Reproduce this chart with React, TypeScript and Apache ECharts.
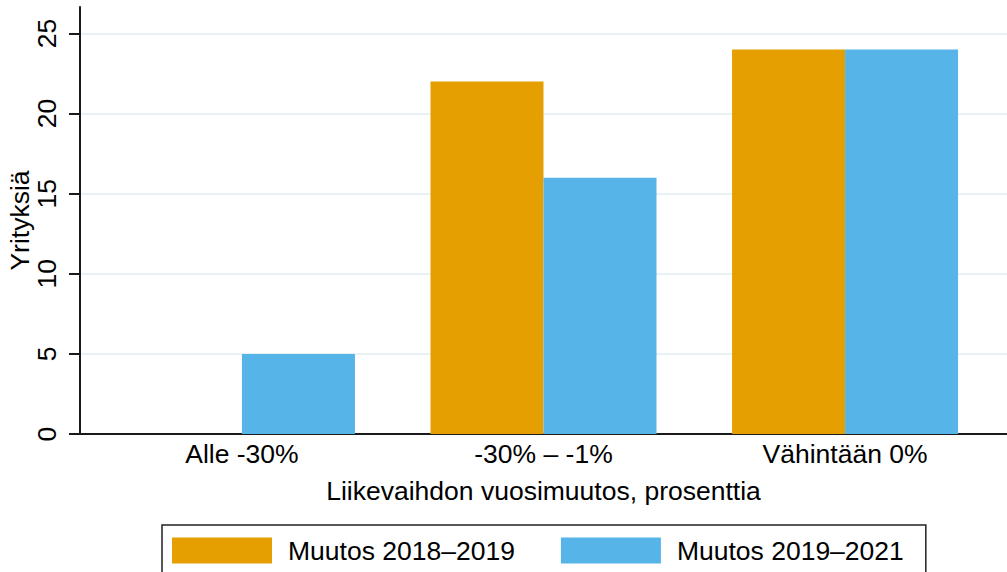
import React, { useEffect, useRef } from "react";
import * as echarts from "echarts";

const categories = ["Alle -30%", "-30% – -1%", "Vähintään 0%"];
const seriesNames = ["Muutos 2018–2019", "Muutos 2019–2021"];
const values2018_2019 = [0, 22, 24];
const values2019_2021 = [5, 16, 24];
const yTicks = [0, 5, 10, 15, 20, 25];
const categoryPositions = categories.map((_, i) => i + 1);

const FONT = "Liberation Sans, Arial, sans-serif";
const FS = 26.5;

export default function App() {
  const ref = useRef<HTMLDivElement>(null);
  useEffect(() => {
    if (!ref.current) return;
    const chart = echarts.init(ref.current, undefined, { renderer: "svg" });
    chart.setOption({
      animation: false,
      backgroundColor: "#ffffff",
      textStyle: { fontFamily: FONT },
      grid: { left: 80, right: 0, top: 7, bottom: 138, containLabel: false, outerBoundsMode: "none" },
      legend: {
        left: 162,
        top: 525,
        orient: "horizontal",
        itemWidth: 100,
        itemHeight: 26,
        itemGap: 46,
        padding: [12, 22, 12, 10],
        borderColor: "#222222",
        borderWidth: 1.5,
        borderRadius: 0,
        icon: "rect",
        textStyle: { fontSize: FS, color: "#000", fontFamily: FONT, padding: [0, 0, 0, 11] },
        data: seriesNames,
      },
      xAxis: {
        type: "value",
        min: 0.463,
        max: 3.537,
        name: "Liikevaihdon vuosimuutos, prosenttia",
        nameLocation: "middle",
        nameGap: 43,
        nameMoveOverlap: false,
        nameTextStyle: { fontSize: FS, color: "#000", fontFamily: FONT },
        axisLine: { show: true, lineStyle: { color: "#1a1a1a", width: 2 } },
        axisTick: { show: false },
        splitLine: { show: false },
        axisLabel: {
          customValues: categoryPositions,
          formatter: (v: number) => categories[Math.round(v) - 1] ?? "",
          fontSize: FS,
          color: "#000",
          margin: 6,
          fontFamily: FONT,
        },
      },
      yAxis: {
        type: "value",
        min: 0,
        max: 26.65,
        name: "Yrityksiä",
        nameLocation: "middle",
        nameGap: 47,
        nameRotate: 90,
        nameMoveOverlap: false,
        nameTextStyle: { fontSize: FS, color: "#000", fontFamily: FONT },
        axisLine: { show: true, lineStyle: { color: "#1a1a1a", width: 2 } },
        axisTick: {
          show: true,
          length: 11,
          customValues: yTicks,
          lineStyle: { color: "#1a1a1a", width: 2 },
        },
        axisLabel: {
          customValues: yTicks,
          rotate: 90,
          fontSize: FS,
          color: "#000",
          margin: 20,
          fontFamily: FONT,
        },
        splitLine: { show: true, lineStyle: { color: "#e8f1f3", width: 2 } },
      },
      series: [
        {
          name: seriesNames[0],
          type: "bar",
          barWidth: 113,
          barGap: "0%",
          itemStyle: { color: "#E69F00" },
          data: values2018_2019.map((v, i) => [categoryPositions[i], v]),
        },
        {
          name: seriesNames[1],
          type: "bar",
          barWidth: 113,
          barGap: "0%",
          itemStyle: { color: "#56B4E9" },
          data: values2019_2021.map((v, i) => [categoryPositions[i], v]),
        },
      ],
    });
    return () => chart.dispose();
  }, []);
  return <div ref={ref} style={{ width: 1007, height: 572, position: "absolute", left: 0, top: 0 }} />;
}
